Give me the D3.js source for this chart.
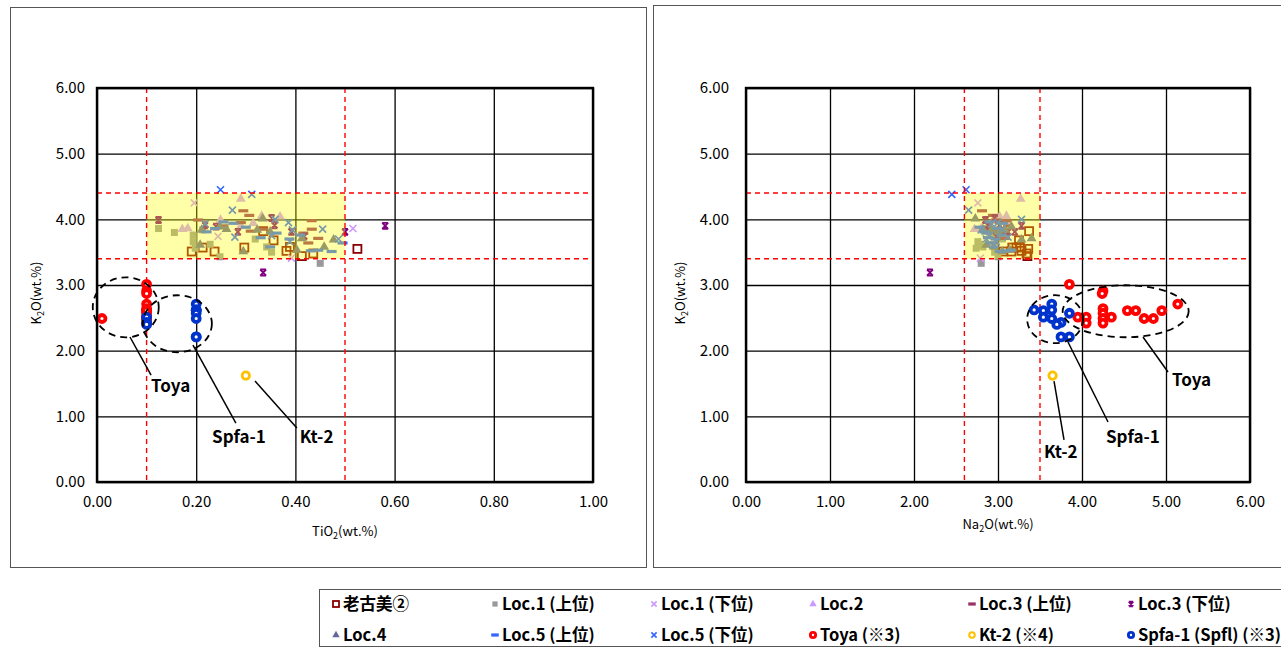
<!DOCTYPE html>
<html lang="ja">
<head>
<meta charset="UTF-8">
<title>K2O - TiO2 / Na2O</title>
<script src="https://d3js.org/d3.v7.min.js"></script>
<style>
  body { margin: 0; background: #fff; }
  text { font-family: "Noto Sans CJK JP", "Noto Sans", sans-serif; }
</style>
</head>
<body>
<div id="content"></div>
<script>
// each point: [TiO2, Na2O, K2O] (wt.%)
const oldKomi = [
  [0.191, 3.06, 3.51], [0.213, 3.17, 3.57], [0.237, 3.16, 3.51], [0.297, 3.22, 3.57],
  [0.335, 3.37, 3.82], [0.356, 3.25, 3.68], [0.382, 3.28, 3.52], [0.389, 3.26, 3.58],
  [0.413, 3.35, 3.44], [0.436, 3.34, 3.48], [0.525, 3.36, 3.55]
];
const loc1Upper = [
  [0.124, 2.85, 3.86], [0.156, 2.90, 3.80], [0.194, 2.95, 3.76], [0.194, 2.76, 3.66],
  [0.198, 2.74, 3.56], [0.213, 2.98, 3.84], [0.228, 2.78, 3.62], [0.248, 3.00, 3.43],
  [0.319, 3.05, 3.70], [0.342, 2.82, 3.58], [0.352, 2.96, 3.50], [0.450, 2.80, 3.33]
];
const loc1Lower = [
  [0.196, 2.76, 4.25], [0.244, 2.98, 3.74], [0.392, 2.79, 3.41], [0.516, 2.93, 3.86]
];
const loc2 = [
  [0.290, 3.27, 4.31], [0.332, 3.10, 4.05], [0.369, 3.02, 4.04], [0.249, 2.95, 3.99],
  [0.183, 2.80, 3.86], [0.172, 2.72, 3.85], [0.315, 3.12, 3.94], [0.290, 2.90, 3.90]
];
const loc3Upper = [
  [0.295, 2.81, 4.13], [0.307, 2.94, 4.06], [0.204, 2.98, 3.99], [0.290, 3.02, 3.95],
  [0.310, 2.92, 3.82], [0.335, 3.05, 3.85], [0.433, 3.10, 3.98], [0.433, 2.88, 3.85],
  [0.416, 3.00, 3.79], [0.446, 3.08, 3.71], [0.426, 2.95, 3.64], [0.255, 3.12, 3.90]
];
const loc3Lower = [
  [0.581, 3.28, 3.90], [0.335, 2.19, 3.19], [0.124, 2.85, 3.99], [0.218, 3.02, 3.91],
  [0.240, 2.90, 3.89], [0.284, 3.06, 3.81], [0.352, 2.96, 4.02], [0.358, 2.88, 3.91],
  [0.392, 3.12, 3.81], [0.418, 2.98, 3.74], [0.500, 3.20, 3.81]
];
const loc4 = [
  [0.334, 2.73, 4.01], [0.261, 2.82, 3.85], [0.211, 2.92, 3.84], [0.248, 3.16, 3.89],
  [0.349, 3.00, 3.81], [0.323, 3.08, 3.84], [0.208, 2.86, 3.61], [0.295, 3.05, 3.51],
  [0.413, 3.40, 3.71], [0.477, 3.28, 3.69], [0.403, 3.14, 3.53], [0.458, 2.95, 3.58]
];
const loc5Upper = [
  [0.275, 3.06, 3.94], [0.362, 2.86, 3.79], [0.349, 2.95, 3.58], [0.446, 3.16, 3.53],
  [0.473, 3.02, 3.51], [0.495, 2.92, 3.64], [0.221, 2.84, 3.81], [0.431, 3.10, 3.52],
  [0.300, 2.78, 3.88], [0.388, 2.97, 3.70], [0.255, 2.90, 3.96], [0.410, 3.04, 3.76],
  [0.330, 2.88, 3.72], [0.238, 2.99, 3.86]
];
const loc5Lower = [
  [0.249, 2.62, 4.45], [0.312, 2.45, 4.38], [0.273, 2.65, 4.14], [0.218, 2.92, 3.93],
  [0.359, 3.28, 4.00], [0.386, 3.00, 3.95], [0.394, 2.80, 3.84], [0.455, 3.05, 3.85],
  [0.352, 2.90, 3.75], [0.278, 3.12, 3.73], [0.389, 2.98, 3.66], [0.487, 2.86, 3.70]
];
const toya = [
  [0.10, 3.85, 3.01], [0.10, 4.25, 2.91], [0.10, 4.24, 2.87], [0.10, 5.14, 2.71],
  [0.10, 4.25, 2.64], [0.10, 4.25, 2.57], [0.01, 4.85, 2.49], [0.10, 4.74, 2.49],
  [0.10, 4.25, 2.49], [0.10, 4.25, 2.42], [0.10, 4.35, 2.51], [0.10, 3.95, 2.51],
  [0.10, 4.05, 2.51], [0.10, 4.05, 2.42], [0.10, 4.54, 2.61], [0.10, 4.64, 2.61],
  [0.10, 4.95, 2.61]
];
const kt2 = [[0.30, 3.65, 1.62]];
const spfa1 = [
  [0.20, 3.64, 2.71], [0.20, 3.43, 2.62], [0.20, 3.54, 2.61], [0.20, 3.64, 2.62],
  [0.20, 3.85, 2.57], [0.10, 3.54, 2.51], [0.20, 3.64, 2.49], [0.10, 3.75, 2.43],
  [0.10, 3.70, 2.40], [0.20, 3.75, 2.21], [0.20, 3.85, 2.21]
];

const yTicks = [0, 1, 2, 3, 4, 5, 6];
const tiTicks = [0, 0.2, 0.4, 0.6, 0.8, 1.0];
const naTicks = [0, 1, 2, 3, 4, 5, 6];
const k2oLimits = [3.4, 4.4];
const tiLimits = [0.1, 0.5];
const naLimits = [2.6, 3.5];

// annotations in data units: ellipses [cx, cy, rx, ry], leaders [x1, y1, x2, y2], labels [x, y, text]
const tiEllipses = [[0.058, 2.66, 0.0665, 0.457], [0.162, 2.41, 0.0696, 0.434]];
const tiLeaders = [[0.0665, 2.208, 0.109, 1.629], [0.1935, 2.086, 0.280, 0.898], [0.3185, 1.538, 0.403, 0.822]];
const tiLabels = [[0.109, 1.37, "Toya"], [0.232, 0.59, "Spfa-1"], [0.409, 0.59, "Kt-2"]];
const naEllipses = [[3.68, 2.48, 0.333, 0.365], [4.52, 2.60, 0.75, 0.396]];
const naLeaders = [[4.726, 2.208, 5.024, 1.675], [3.833, 2.132, 4.31, 0.914], [3.667, 1.538, 3.786, 0.64]];
const naLabels = [[5.071, 1.46, "Toya"], [4.286, 0.59, "Spfa-1"], [3.548, 0.36, "Kt-2"]];

// "front" series sit outside the yellow box and are drawn above it
const seriesDefs = [
  { name: "老古美②", data: oldKomi, type: "squareOpen", color: "#8b0000" },
  { name: "Loc.1 (上位)", data: loc1Upper, type: "square", color: "#999999" },
  { name: "Loc.1 (下位)", data: loc1Lower, type: "cross", color: "#cc99ff" },
  { name: "Loc.2", data: loc2, type: "triangle", color: "#cc99ff" },
  { name: "Loc.3 (上位)", data: loc3Upper, type: "dash", color: "#993366" },
  { name: "Loc.3 (下位)", data: loc3Lower, type: "hourglass", color: "#800080" },
  { name: "Loc.4", data: loc4, type: "triangle", color: "#666699" },
  { name: "Loc.5 (上位)", data: loc5Upper, type: "dash", color: "#3366ff" },
  { name: "Loc.5 (下位)", data: loc5Lower, type: "cross", color: "#3366ff" },
  { name: "Toya (※3)", data: toya, type: "ring", color: "#ff0000", front: true },
  { name: "Kt-2 (※4)", data: kt2, type: "ringThin", color: "#ffc000", front: true },
  { name: "Spfa-1 (Spfl) (※3)", data: spfa1, type: "ring", color: "#0033cc", front: true }
];

const W = 1281, H = 649;
const plotTop = 88, plotBottom = 482;

const svg = d3.select("#content").append("svg")
  .attr("width", W).attr("height", H);

// panel frames
svg.append("rect").attr("x", 10.5).attr("y", 7.5).attr("width", 636).attr("height", 560)
  .attr("fill", "none").attr("stroke", "#555");
svg.append("rect").attr("x", 653.5).attr("y", 5.5).attr("width", 640).attr("height", 562)
  .attr("fill", "none").attr("stroke", "#555");

function marker(sel, type, color, s) {
  s = s || 1;
  if (type === "squareOpen") {
    sel.append("rect").attr("x", -4 * s).attr("y", -4 * s).attr("width", 8 * s).attr("height", 8 * s)
      .attr("fill", "none").attr("stroke", color).attr("stroke-width", 1.8);
  } else if (type === "square") {
    sel.append("rect").attr("x", -3.5 * s).attr("y", -3.5 * s).attr("width", 7 * s).attr("height", 7 * s)
      .attr("fill", color);
  } else if (type === "cross") {
    const r = 3.5 * s;
    sel.append("path").attr("d", `M${-r},${-r}L${r},${r}M${-r},${r}L${r},${-r}`)
      .attr("stroke", color).attr("stroke-width", 1.6).attr("fill", "none");
  } else if (type === "triangle") {
    sel.append("path").attr("d", d3.symbol(d3.symbolTriangle, 42 * s * s)())
      .attr("fill", color);
  } else if (type === "dash") {
    sel.append("rect").attr("x", -5 * s).attr("y", -1.6).attr("width", 10 * s).attr("height", 3.2)
      .attr("fill", color);
  } else if (type === "hourglass") {
    const r = 3 * s;
    sel.append("path").attr("d", `M${-r},${-r}L${r},${-r}M${-r},${r}L${r},${r}M${-r},${-r}L${r},${r}M${r},${-r}L${-r},${r}`)
      .attr("stroke", color).attr("stroke-width", 1.8).attr("fill", "none");
  } else if (type === "ring") {
    sel.append("circle").attr("r", 3.5 * s).attr("fill", "#fff")
      .attr("stroke", color).attr("stroke-width", 3.8 * s);
  } else if (type === "ringThin") {
    sel.append("circle").attr("r", 3.7 * s).attr("fill", "#fff")
      .attr("stroke", color).attr("stroke-width", 2.8 * s);
  }
}

// chemical formula with subscript 2: a + "2" + b
function formula(sel, a, b) {
  sel.append("tspan").text(a);
  sel.append("tspan").text("2").attr("font-size", 9).attr("dy", 3);
  sel.append("tspan").text(b).attr("dy", -3);
}

function drawChart(cfg) {
  const x = d3.scaleLinear().domain(cfg.domain).range(cfg.range);
  const y = d3.scaleLinear().domain([0, 6]).range([plotBottom, plotTop]);
  const g = svg.append("g");
  const fmt = d3.format(".2f");

  // grid + tick labels
  const xa = g.append("g").attr("transform", `translate(0,${plotBottom})`)
    .call(d3.axisBottom(x).tickValues(cfg.ticks).tickFormat(fmt)
      .tickSize(-(plotBottom - plotTop)).tickPadding(14));
  const ya = g.append("g").attr("transform", `translate(${cfg.range[0]},0)`)
    .call(d3.axisLeft(y).tickValues(yTicks).tickFormat(fmt)
      .tickSize(-(cfg.range[1] - cfg.range[0])).tickPadding(cfg.yPad));
  [xa, ya].forEach(a => {
    a.select(".domain").remove();
    a.selectAll("line").attr("stroke", "#000").attr("stroke-width", 1.3);
    a.selectAll("text").attr("font-size", 15).attr("fill", "#000")
      .style("font-family", "'Noto Sans CJK JP', sans-serif");
  });

  const drawSeries = sd => {
    g.append("g").selectAll("g").data(sd.data).join("g")
      .attr("transform", d => `translate(${x(d[cfg.col])},${y(d[2])})`)
      .each(function () { marker(d3.select(this), sd.type, sd.color); });
  };

  seriesDefs.filter(sd => !sd.front).forEach(drawSeries);

  // translucent yellow box over the cluster
  g.append("rect")
    .attr("x", x(cfg.limits[0])).attr("y", y(k2oLimits[1]))
    .attr("width", x(cfg.limits[1]) - x(cfg.limits[0]))
    .attr("height", y(k2oLimits[0]) - y(k2oLimits[1]))
    .attr("fill", "#ffff00").attr("fill-opacity", 0.34);

  // reference lines
  const red = g.append("g").attr("stroke", "#ff0000").attr("stroke-width", 1.4)
    .attr("stroke-dasharray", "5,4");
  cfg.limits.forEach(v => red.append("line").attr("x1", x(v)).attr("x2", x(v))
    .attr("y1", plotTop).attr("y2", plotBottom));
  k2oLimits.forEach(v => red.append("line").attr("x1", cfg.range[0]).attr("x2", cfg.range[1])
    .attr("y1", y(v)).attr("y2", y(v)));

  seriesDefs.filter(sd => sd.front).forEach(drawSeries);

  // plot frame
  g.append("rect").attr("x", cfg.range[0]).attr("y", plotTop)
    .attr("width", cfg.range[1] - cfg.range[0]).attr("height", plotBottom - plotTop)
    .attr("fill", "none").attr("stroke", "#000").attr("stroke-width", 2.4);

  // ellipses, leaders, labels
  cfg.ellipses.forEach(e => g.append("ellipse")
    .attr("cx", x(e[0])).attr("cy", y(e[1]))
    .attr("rx", x(e[0] + e[2]) - x(e[0])).attr("ry", y(e[1] - e[3]) - y(e[1]))
    .attr("fill", "none").attr("stroke", "#000").attr("stroke-width", 1.8)
    .attr("stroke-dasharray", "7,5"));
  cfg.leaders.forEach(l => g.append("line")
    .attr("x1", x(l[0])).attr("y1", y(l[1])).attr("x2", x(l[2])).attr("y2", y(l[3]))
    .attr("stroke", "#000").attr("stroke-width", 1.5));
  cfg.labels.forEach(l => g.append("text")
    .attr("x", x(l[0])).attr("y", y(l[1])).text(l[2])
    .attr("font-size", 17).attr("font-weight", "bold").attr("fill", "#000"));

  // axis titles
  const cx = (cfg.range[0] + cfg.range[1]) / 2;
  g.append("text").attr("x", cx).attr("y", cfg.xTitleY).attr("text-anchor", "middle")
    .attr("font-size", 13).call(formula, cfg.xName[0], cfg.xName[1]);
  g.append("text").attr("transform", `translate(${cfg.yTitleX},293) rotate(-90)`)
    .attr("text-anchor", "middle").attr("font-size", 13).call(formula, "K", "O(wt.%)");
}

drawChart({
  col: 0, domain: [0, 1], range: [97, 593], ticks: tiTicks, limits: tiLimits, yPad: 12,
  xName: ["TiO", "(wt.%)"], xTitleY: 536, yTitleX: 41,
  ellipses: tiEllipses, leaders: tiLeaders, labels: tiLabels
});
drawChart({
  col: 1, domain: [0, 6], range: [746, 1250], ticks: naTicks, limits: naLimits, yPad: 17,
  xName: ["Na", "O(wt.%)"], xTitleY: 529, yTitleX: 685,
  ellipses: naEllipses, leaders: naLeaders, labels: naLabels
});

// legend
const legend = svg.append("g");
legend.append("rect").attr("x", 319.5).attr("y", 589.5).attr("width", 980).attr("height", 57)
  .attr("fill", "#fff").attr("stroke", "#555");
seriesDefs.forEach((sd, i) => {
  const col = i % 6, row = Math.floor(i / 6);
  const item = legend.append("g").attr("transform", `translate(${336 + col * 159},${604 + row * 31})`);
  item.append("g").call(marker, sd.type, sd.color, 0.75);
  item.append("text").attr("x", 7).attr("y", 6).text(sd.name)
    .attr("font-size", 16.5).attr("font-weight", "bold").attr("fill", "#000");
});
</script>
</body>
</html>
